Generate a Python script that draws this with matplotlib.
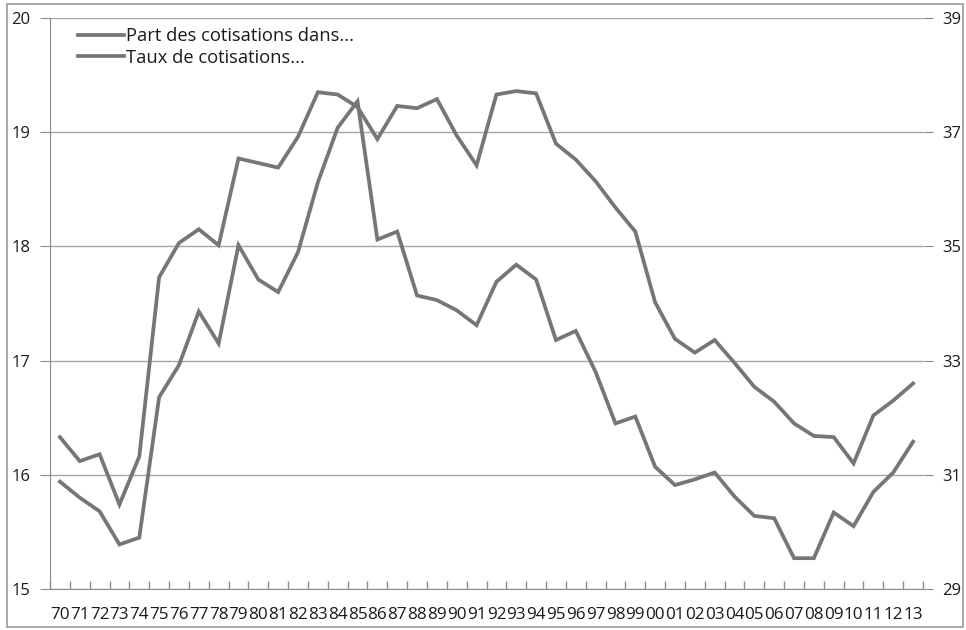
import matplotlib
matplotlib.use("Agg")
import matplotlib.pyplot as plt
from matplotlib.patches import Rectangle
import numpy as np

plt.rcParams['font.family'] = ['Open Sans', 'DejaVu Sans']

years = list(range(1970, 2014))
year_labels = [f"{y % 100:02d}" for y in years]

# Part des cotisations (left axis, %)
part_cotisations = [
    16.33, 16.12, 16.18, 15.74, 16.16, 17.73, 18.03, 18.15, 18.01, 18.77,
    18.73, 18.69, 18.96, 19.35, 19.33, 19.22, 18.94, 19.23, 19.21, 19.29,
    18.97, 18.71, 19.33, 19.36, 19.34, 18.90, 18.76, 18.57, 18.34, 18.13,
    17.51, 17.19, 17.07, 17.18, 16.98, 16.77, 16.64, 16.45, 16.34, 16.33,
    16.10, 16.52, 16.65, 16.80,
]

# Taux de cotisations (right axis, %)
taux_cotisations = [
    30.88, 30.60, 30.36, 29.78, 29.90, 32.36, 32.92, 33.86, 33.30, 35.02,
    34.42, 34.20, 34.90, 36.12, 37.08, 37.54, 35.12, 35.26, 34.14, 34.06,
    33.88, 33.62, 34.38, 34.68, 34.42, 33.36, 33.52, 32.80, 31.90, 32.02,
    31.14, 30.82, 30.92, 31.04, 30.62, 30.28, 30.24, 29.54, 29.54, 30.34,
    30.10, 30.70, 31.04, 31.58,
]

line_color = '#767676'
grid_color = '#a6a6a6'
axis_color = '#8c8c8c'
text_color = '#1a1a1a'

fig = plt.figure(figsize=(9.66, 6.30), dpi=100)
fig.add_artist(Rectangle((7 / 966, 3 / 630), 956 / 966, 623 / 630,
                         transform=fig.transFigure, fill=False,
                         edgecolor='#9a9a9a', linewidth=1.2))

ax = fig.add_axes([50 / 966, 1 - 589 / 630, 873 / 966, 571 / 630])
ax2 = ax.twinx()

x = np.arange(len(years))
l1, = ax.plot(x, part_cotisations, color=line_color, lw=2.7,
              solid_joinstyle='miter', label="Part des cotisations dans...")
l2, = ax2.plot(x, taux_cotisations, color=line_color, lw=2.7,
               solid_joinstyle='miter', label="Taux de cotisations...")

ax.set_xlim(-0.5, len(years) - 0.5)
ax.set_ylim(15, 20)
ax.set_yticks([15, 16, 17, 18, 19, 20])
ax2.set_ylim(29, 39)
ax2.set_yticks([29, 31, 33, 35, 37, 39])

ax.set_xticks(x)
ax.set_xticklabels(year_labels)
ax.set_xticks(np.arange(-0.5, len(years) - 0.4, 1), minor=True)
ax.tick_params(axis='x', which='major', length=0, pad=13,
               labelsize=12.3, labelcolor=text_color)
ax.tick_params(axis='x', which='minor', length=6, direction='in',
               color=axis_color, width=1)
ax.tick_params(axis='y', length=7, direction='out', color=axis_color,
               pad=7, labelsize=12, labelcolor=text_color)
ax2.tick_params(axis='y', length=7, direction='out', color=axis_color,
                pad=7, labelsize=12, labelcolor=text_color)

ax.grid(axis='y', color=grid_color, lw=1)
ax.set_axisbelow(True)

for s in ['top', 'right']:
    ax.spines[s].set_visible(False)
for s in ['top', 'right', 'left', 'bottom']:
    ax2.spines[s].set_visible(False)
ax.spines['left'].set_color(axis_color)
ax.spines['bottom'].set_color(axis_color)

ax2.legend([l1, l2], [l1.get_label(), l2.get_label()],
           loc='upper left', bbox_to_anchor=(0.02, 1.003), frameon=False,
           fontsize=13.2, handlelength=2.5, handletextpad=0.1,
           labelspacing=0.18, labelcolor=text_color, borderaxespad=0.2)

fig.savefig('out.png', dpi=100)
